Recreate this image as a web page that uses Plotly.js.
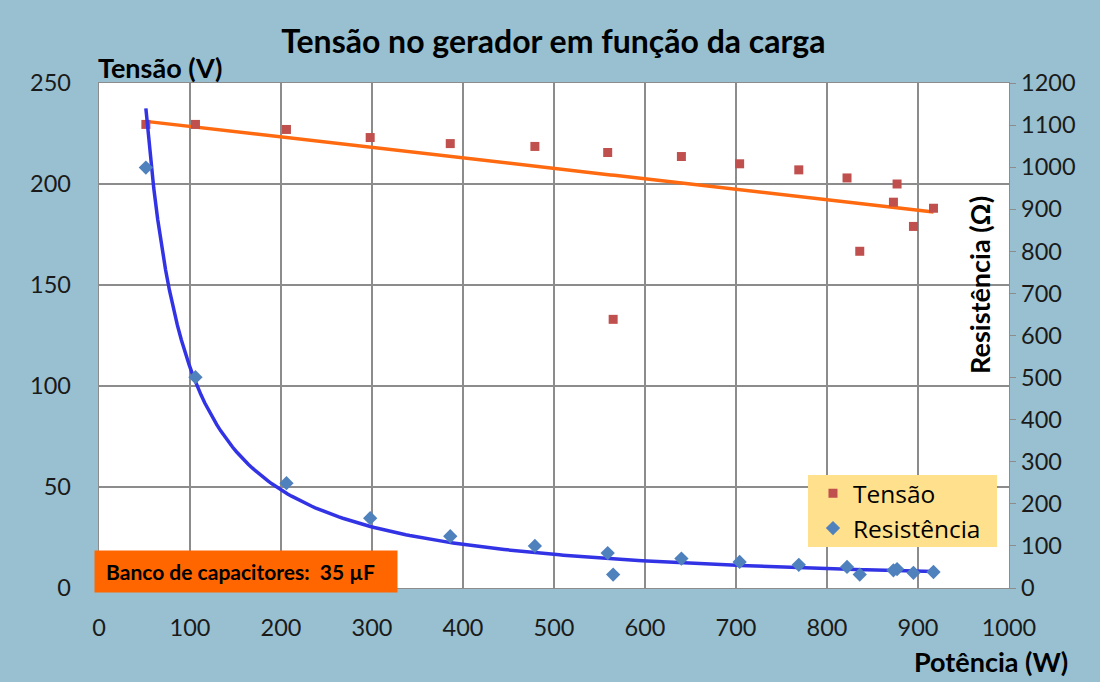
<!DOCTYPE html>
<html>
<head>
<meta charset="utf-8">
<script src="https://cdn.plot.ly/plotly-3.0.1.min.js"></script>
<style>html,body{margin:0;padding:0;background:#98c0d0;}#chart{width:1100px;height:682px;}</style>
</head>
<body>
<div id="chart"></div>
<script>
// Data
const potencia = [51.5, 106, 206, 298, 386, 479, 559, 565, 640, 704, 769, 822, 836, 873, 877, 895, 917];
const tensao   = [229.5, 229.5, 227, 223, 220, 218.6, 215.6, 133, 213.6, 210, 207, 203, 166.7, 191, 200, 179, 188];
const resistencia = [999, 501, 249, 166, 123, 100, 83, 32, 70, 62, 55, 50, 32, 42, 45, 36, 38];
const xTicks = [0,100,200,300,400,500,600,700,800,900,1000];
const yTicks = [0,50,100,150,200,250];
const y2Ticks = [0,100,200,300,400,500,600,700,800,900,1000,1100,1200];

// Least-squares trend lines (linear for Tensão, power for Resistência)
function linFit(xs, ys){
  const n = xs.length;
  const mx = xs.reduce((a,b)=>a+b,0)/n, my = ys.reduce((a,b)=>a+b,0)/n;
  let sxy=0, sxx=0;
  for(let i=0;i<n;i++){ sxy+=(xs[i]-mx)*(ys[i]-my); sxx+=(xs[i]-mx)**2; }
  const b = sxy/sxx; return {a: my-b*mx, b: b};
}
const lin = linFit(potencia, tensao);
const pw = linFit(potencia.map(Math.log), resistencia.map(Math.log));
const xmin = Math.min(...potencia), xmax = Math.max(...potencia);
const tx = [];
for(let i=0;i<=200;i++) tx.push(xmin + (xmax-xmin)*i/200);
const tLin = tx.map(x => lin.a + lin.b*x);
const tPow = tx.map(x => Math.exp(pw.a) * Math.pow(x, pw.b));

const FONT = 'Lato, "Noto Sans", sans-serif';
const TICKFONT = {family:FONT, size:23.5, color:'#1a1a1a'};

const traces = [
  {x: tx, y: tLin, mode:'lines', line:{color:'#ff6a10', width:3.5}, showlegend:false, hoverinfo:'skip', yaxis:'y'},
  {x: tx, y: tPow, mode:'lines', line:{color:'#3333e6', width:3.5}, showlegend:false, hoverinfo:'skip', yaxis:'y2'},
  {x: potencia, y: tensao, name:'Tensão', mode:'markers', marker:{symbol:'square', size:9, color:'#c0504d'}, yaxis:'y'},
  {x: potencia, y: resistencia, name:'Resistência', mode:'markers', marker:{symbol:'diamond', size:11, color:'#4f81bd'}, yaxis:'y2'}
];

const layout = {
  width:1100, height:682,
  paper_bgcolor:'#98c0d0', plot_bgcolor:'#ffffff',
  margin:{l:99, r:91, t:83, b:94},
  font:{family:FONT, size:20, color:'#1a1a1a'},
  title:{text:'<b>Tensão no gerador em função da carga</b>', font:{family:FONT, size:32, color:'#000'}, x:0.503, xanchor:'center', y:0.938, yanchor:'middle'},
  xaxis:{range:[0,1000], tickvals:xTicks, ticktext:xTicks.map(String), showgrid:true, gridcolor:'#8c8c8c', gridwidth:1.3,
         showline:true, linecolor:'#8c8c8c', linewidth:1.3, mirror:true, ticks:'', zeroline:false, ticklabelstandoff:18,
         tickfont:TICKFONT},
  yaxis:{range:[0,250], tickvals:yTicks, ticktext:yTicks.map(String), showgrid:true, gridcolor:'#8c8c8c', gridwidth:1.3,
         showline:true, linecolor:'#8c8c8c', linewidth:1.3, mirror:true, ticks:'', zeroline:false, ticklabelstandoff:22,
         tickfont:TICKFONT},
  yaxis2:{range:[0,1200], tickvals:y2Ticks, ticktext:y2Ticks.map(String), overlaying:'y', side:'right', showgrid:false,
          showline:true, linecolor:'#8c8c8c', linewidth:1.3, ticks:'outside', ticklen:6, tickcolor:'#8c8c8c', zeroline:false,
          tickfont:TICKFONT},
  legend:{x:0.7846, y:0.232, xanchor:'left', yanchor:'top', bgcolor:'rgba(0,0,0,0)', borderwidth:0,
          font:{family:'"Open Sans", Lato, sans-serif', size:24.5, color:'#000'}, itemwidth:30, tracegroupgap:0},
  shapes:[
    {type:'rect', xref:'paper', yref:'paper', x0:0.7791, x1:0.9868, y0:0.0812, y1:0.2238, fillcolor:'#ffe08c', line:{width:0}, layer:'above'}
  ],
  annotations:[
    {text:'<b>Tensão (V)</b>', xref:'paper', yref:'paper', x:-0.003, y:1.03, xanchor:'left', yanchor:'middle', showarrow:false,
     font:{family:FONT, size:27, color:'#000'}},
    {text:'<b>Resistência (Ω)</b>', xref:'paper', yref:'paper', x:0.967, y:0.6, xanchor:'center', yanchor:'middle', textangle:-90, showarrow:false,
     font:{family:FONT, size:27, color:'#000'}},
    {text:'<b>Potência (W)</b>', xref:'paper', yref:'paper', x:0.98, y:-0.145, xanchor:'center', yanchor:'middle', showarrow:false,
     font:{family:FONT, size:27, color:'#000'}},
    {text:'<b>&nbsp;Banco de capacitores:  35 µF</b>', xref:'paper', yref:'paper', x:-0.0055, y:0.075, xanchor:'left', yanchor:'top', showarrow:false,
     bgcolor:'#ff6600', width:290, height:29, borderpad:6, align:'left',
     font:{family:FONT, size:21, color:'#000'}}
  ]
};

Plotly.newPlot('chart', traces, layout, {displayModeBar:false, staticPlot:true});
</script>
</body>
</html>
